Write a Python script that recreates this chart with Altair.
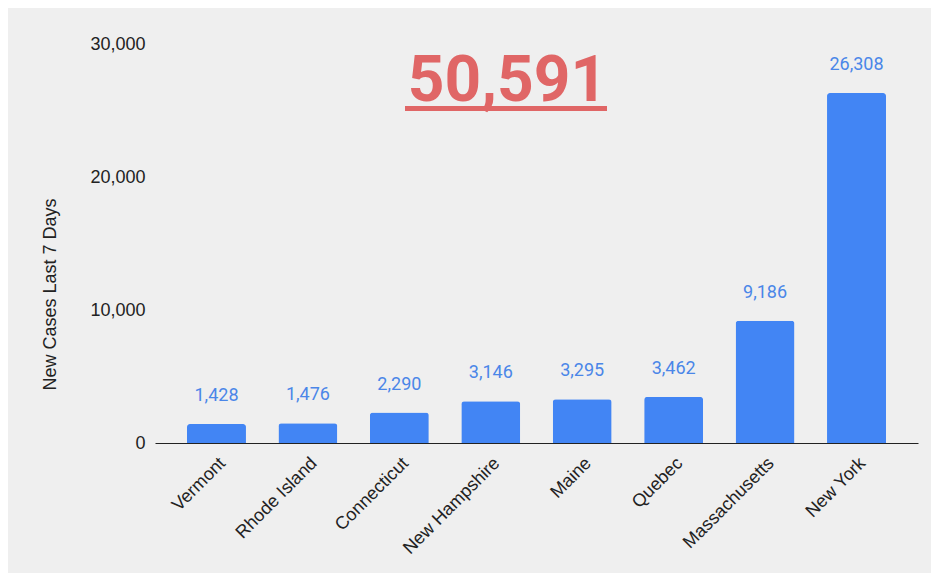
import altair as alt
import pandas as pd

states = ["Vermont", "Rhode Island", "Connecticut", "New Hampshire", "Maine",
          "Quebec", "Massachusetts", "New York"]
cases = [1428, 1476, 2290, 3146, 3295, 3462, 9186, 26308]
y_ticks = [0, 10000, 20000, 30000]
total_text = "50,591"
y_title = "New Cases Last 7 Days"

df = pd.DataFrame({"state": states, "cases": cases})

BLUE = "#4285f4"
LABEL_BLUE = "#4a86e8"
RED = "#e06666"

x = alt.X("state:N", sort=states, title=None,
          scale=alt.Scale(paddingInner=0.355, paddingOuter=0.35),
          axis=alt.Axis(labelAngle=-45, labelFont="Liberation Sans", labelFontSize=18,
                        labelColor="#222222", labelPadding=11, ticks=False,
                        domainColor="#222222", domainWidth=1.2))
y = alt.Y("cases:Q", title=y_title,
          scale=alt.Scale(domain=[0, 30000], nice=False),
          axis=alt.Axis(values=y_ticks, format=",.0f", grid=False, domain=False, ticks=False,
                        labelFont="Liberation Sans", labelFontSize=18, labelColor="#222222",
                        labelPadding=10, titleFont="Liberation Sans", titleFontSize=18,
                        titleFontWeight="normal", titleColor="#222222", titleAngle=-90,
                        titleX=-105, titleY=250, titleAlign="center", titleBaseline="middle"))

base = alt.Chart(df)
bars = base.mark_bar(color=BLUE, cornerRadiusTopLeft=3, cornerRadiusTopRight=3).encode(x=x, y=y)
labels = base.mark_text(font="Roboto", fontSize=18, color=LABEL_BLUE, dy=-28,
                        baseline="middle").encode(x=x, y=y, text=alt.Text("cases:Q", format=",.0f"))
underline = alt.Chart(pd.DataFrame({"t": [total_text]})).mark_rule(
    color=RED, strokeWidth=5).encode(x=alt.value(250), x2=alt.value(452), y=alt.value(64.5))

chart = alt.layer(bars, labels, underline).properties(
    width=763, height=399,
    title=alt.TitleParams(total_text, font="Roboto", fontSize=64, fontWeight="bold",
                          color=RED, anchor="middle", baseline="alphabetic", dx=-29, dy=134),
    background="#efefef",
    padding={"left": 147, "top": 36, "right": 13, "bottom": 130},
    autosize=alt.AutoSizeParams(type="none"),
).configure_view(stroke=None)

chart.save("out.html", embed_options={"renderer": "svg", "actions": False})
